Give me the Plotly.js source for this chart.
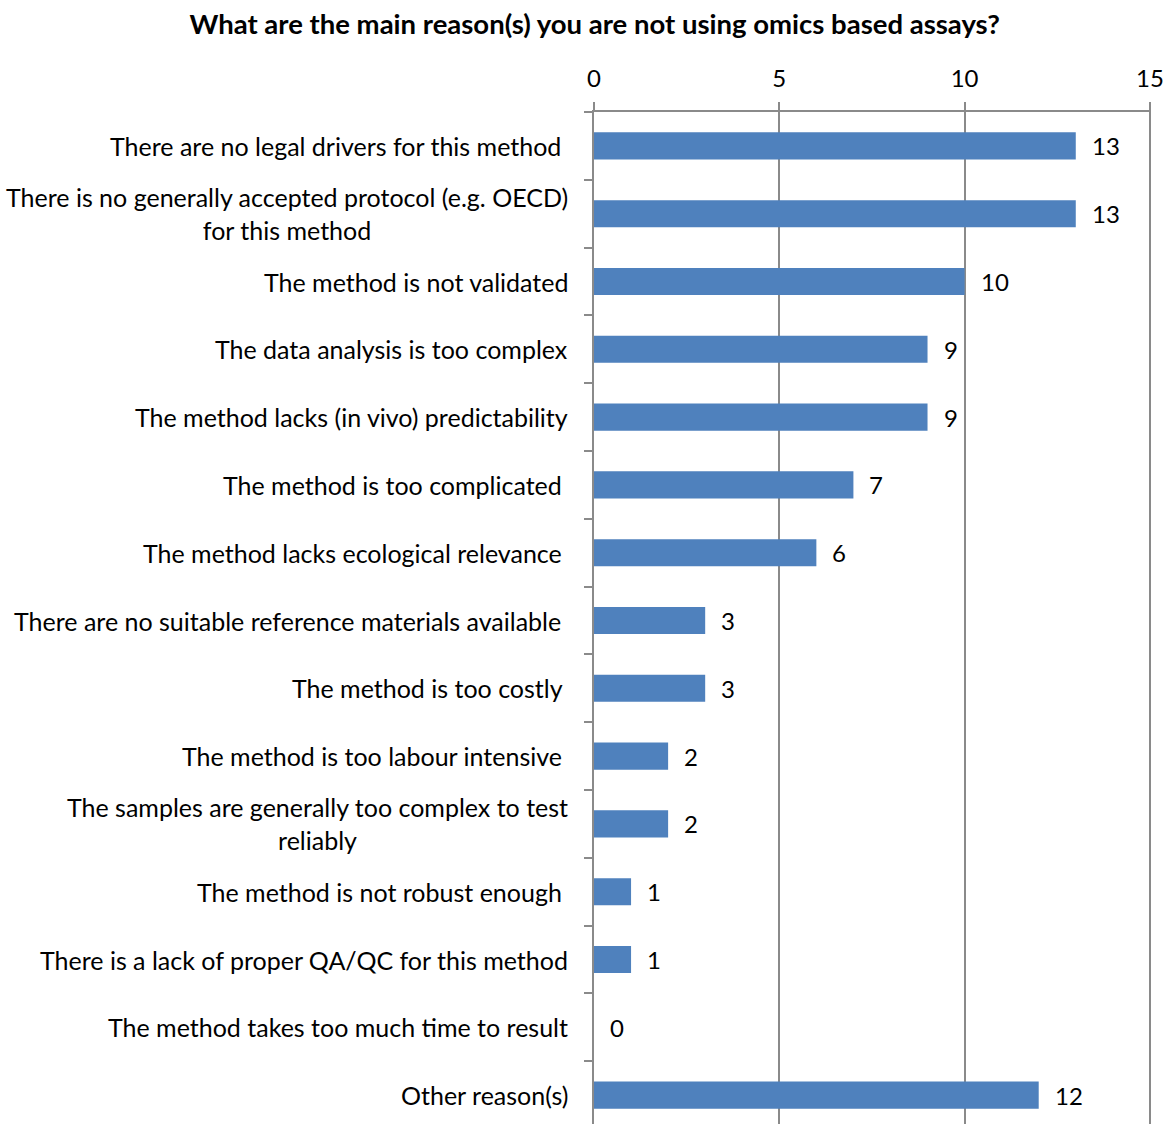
<!DOCTYPE html>
<html><head><meta charset="utf-8">
<script src="https://cdn.plot.ly/plotly-3.0.1.min.js"></script>
<style>html,body{margin:0;padding:0;background:#fff;}</style>
</head><body>
<div id="chart" style="width:1166px;height:1124px;"></div>
<script>
const categories = [
  "There are no legal drivers for this method\u00a0",
  "There is no generally accepted protocol (e.g. OECD)<br>for this method",
  "The method is not validated",
  "The data analysis is too complex",
  "The method lacks (in vivo) predictability",
  "The method is too complicated\u00a0",
  "The method lacks ecological relevance\u00a0",
  "There are no suitable reference materials available\u00a0",
  "The method is too costly\u00a0",
  "The method is too labour intensive\u00a0",
  "The samples are generally too complex to test<br>reliably",
  "The method is not robust enough\u00a0",
  "There is a lack of proper QA/QC for this method",
  "The method takes too much time to result",
  "Other reason(s)"
];
const values = [13, 13, 10, 9, 9, 7, 6, 3, 3, 2, 2, 1, 1, 0, 12];
const xTicks = [0, 5, 10, 15];
const titleText = "What are the main reason(s) you are not using omics based assays?";

const FONT = "Lato, 'Open Sans', sans-serif";
const idx = categories.map((c, i) => i);

const trace = {
  type: 'bar',
  orientation: 'h',
  x: values,
  y: idx,
  width: 0.4,
  marker: {color: '#4F81BD', line: {width: 0}},
  hoverinfo: 'none'
};

const annotations = [];
categories.forEach((c, i) => {
  annotations.push({
    text: c, x: 0, xref: 'paper', y: i, yref: 'y',
    xanchor: 'right', yanchor: 'middle', align: 'center', xshift: -24,
    showarrow: false, font: {family: FONT, size: 25, color: '#000'}
  });
  annotations.push({
    text: String(values[i]), x: values[i], xref: 'x', y: i, yref: 'y',
    xanchor: 'left', yanchor: 'middle', xshift: 14,
    showarrow: false, font: {family: FONT, size: 24, color: '#000'}
  });
});

const layout = {
  width: 1166, height: 1124,
  margin: {l: 594, r: 15, t: 112, b: 0, pad: 0},
  paper_bgcolor: '#fff', plot_bgcolor: '#fff',
  showlegend: false,
  font: {family: FONT, size: 24, color: '#000'},
  title: {text: '<b>' + titleText + '</b>', x: 0.51, xanchor: 'center', y: 0.978, yanchor: 'middle',
          font: {family: FONT, size: 27.5, color: '#000'}},
  xaxis: {
    side: 'top', range: [0, 15.03], autorange: false,
    tickvals: xTicks, ticktext: xTicks.map(String),
    showgrid: true, gridcolor: '#8a8a8a', gridwidth: 2,
    showline: true, linecolor: '#8a8a8a', linewidth: 2,
    ticks: 'outside', ticklen: 8, tickcolor: '#8a8a8a', tickwidth: 2,
    ticklabelstandoff: 5,
    zeroline: false, tickfont: {family: FONT, size: 24, color: '#000'}
  },
  yaxis: {
    type: 'linear', range: [14.426, -0.5], autorange: false,
    tickvals: idx.map(i => i - 0.5).concat([14.5]), showticklabels: false,
    ticks: 'outside', ticklen: 8, tickcolor: '#8a8a8a', tickwidth: 2,
    showline: true, linecolor: '#8a8a8a', linewidth: 2,
    showgrid: false, zeroline: false
  },
  annotations: annotations
};

Plotly.newPlot('chart', [trace], layout, {displayModeBar: false, staticPlot: true});
</script>
</body></html>
